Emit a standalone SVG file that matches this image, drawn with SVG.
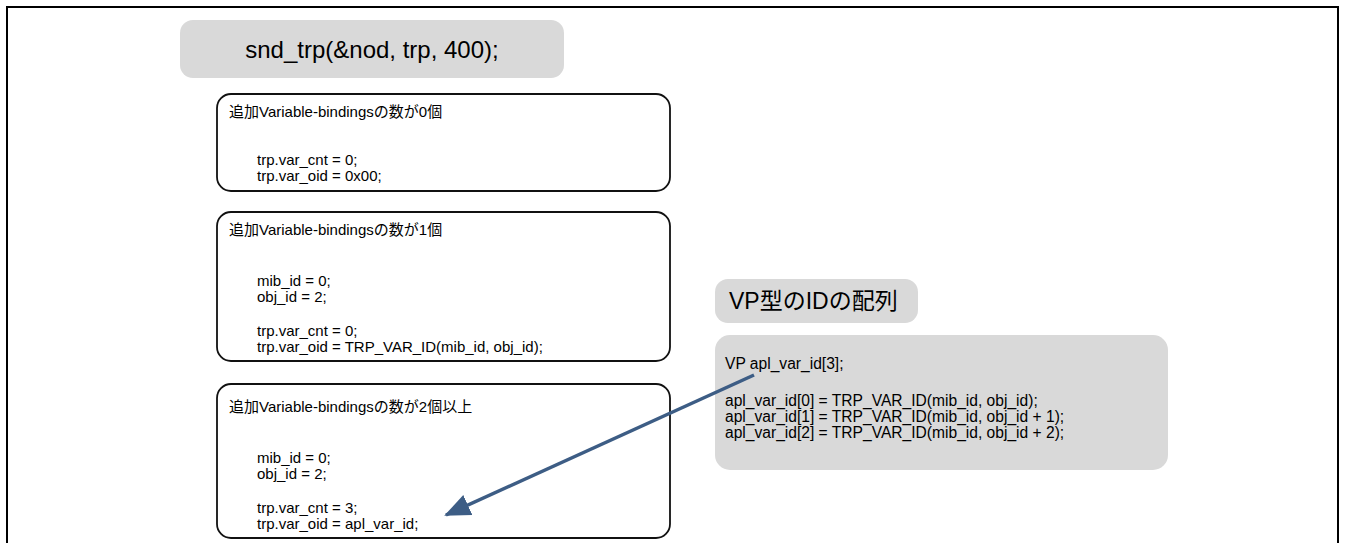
<svg xmlns="http://www.w3.org/2000/svg" width="1346" height="543" viewBox="0 0 1346 543">
  <style>
    .frame { fill: none; stroke: #000; stroke-width: 2; }
    .gray { fill: #d9d9d9; stroke: none; }
    .case { fill: #fff; stroke: #111; stroke-width: 1.8; }
    .txt { font-family: "Liberation Sans", Arial, "Noto Sans CJK JP", sans-serif; fill: #000; }
    .code { font-size: 15px; }
    .code2 { font-size: 15.6px; }
    .title { font-size: 24px; }
    .head { font-size: 23px; }
    .conn { stroke: #3d5d85; stroke-width: 3.5; fill: none; }
  </style>
  <defs>
    <marker id="arrow" markerUnits="userSpaceOnUse" markerWidth="26" markerHeight="26" viewBox="0 0 26 26" refX="24" refY="13" orient="auto">
      <path d="M0,2 L26,13 L0,24 Z" fill="#3d5d85"/>
    </marker>
  </defs>

  <rect width="1346" height="543" fill="#fff"/>
  <!-- outer frame (open at the bottom) -->
  <path class="frame" d="M7,545 V7 H1338 V545"/>

  <!-- call -->
  <g id="call">
    <rect class="gray" x="180" y="20" width="384" height="58" rx="13"/>
    <text class="txt title" x="372" y="58" text-anchor="middle">snd_trp(&amp;nod, trp, 400);</text>
  </g>

  <!-- case: no extra bindings -->
  <g id="case0">
    <rect class="case" x="217" y="94" width="453" height="97" rx="14"/>
    <text class="txt code" x="229" y="117">追加Variable-bindingsの数が0個</text>
    <text class="txt code" x="257" y="165">trp.var_cnt = 0;</text>
    <text class="txt code" x="257" y="181">trp.var_oid = 0x00;</text>
  </g>

  <!-- case: one extra binding -->
  <g id="case1">
    <rect class="case" x="217" y="212" width="453" height="149" rx="14"/>
    <text class="txt code" x="229" y="235">追加Variable-bindingsの数が1個</text>
    <text class="txt code" x="257" y="286">mib_id = 0;</text>
    <text class="txt code" x="257" y="302">obj_id = 2;</text>
    <text class="txt code" x="257" y="336">trp.var_cnt = 0;</text>
    <text class="txt code" x="257" y="352">trp.var_oid = TRP_VAR_ID(mib_id, obj_id);</text>
  </g>

  <!-- case: two or more extra bindings -->
  <g id="case2">
    <rect class="case" x="217" y="384" width="453" height="154" rx="14"/>
    <text class="txt code" x="229" y="412">追加Variable-bindingsの数が2個以上</text>
    <text class="txt code" x="257" y="463">mib_id = 0;</text>
    <text class="txt code" x="257" y="479">obj_id = 2;</text>
    <text class="txt code" x="257" y="513">trp.var_cnt = 3;</text>
    <text class="txt code" x="257" y="529">trp.var_oid = apl_var_id;</text>
  </g>

  <!-- array heading -->
  <g id="array-label">
    <rect class="gray" x="715" y="279" width="203" height="44" rx="13"/>
    <text class="txt head" x="729" y="309">VP型のIDの配列</text>
  </g>

  <!-- array definition -->
  <g id="array">
    <rect class="gray" x="715" y="335" width="453" height="135" rx="15"/>
    <text class="txt code2" x="725" y="369">VP apl_var_id[3];</text>
    <text class="txt code2" x="725" y="406">apl_var_id[0] = TRP_VAR_ID(mib_id, obj_id);</text>
    <text class="txt code2" x="725" y="422">apl_var_id[1] = TRP_VAR_ID(mib_id, obj_id + 1);</text>
    <text class="txt code2" x="725" y="438">apl_var_id[2] = TRP_VAR_ID(mib_id, obj_id + 2);</text>
  </g>

  <!-- connectors -->
  <g id="connectors">
    <line class="conn" x1="754" y1="375" x2="446" y2="515" marker-end="url(#arrow)"/>
  </g>
</svg>
